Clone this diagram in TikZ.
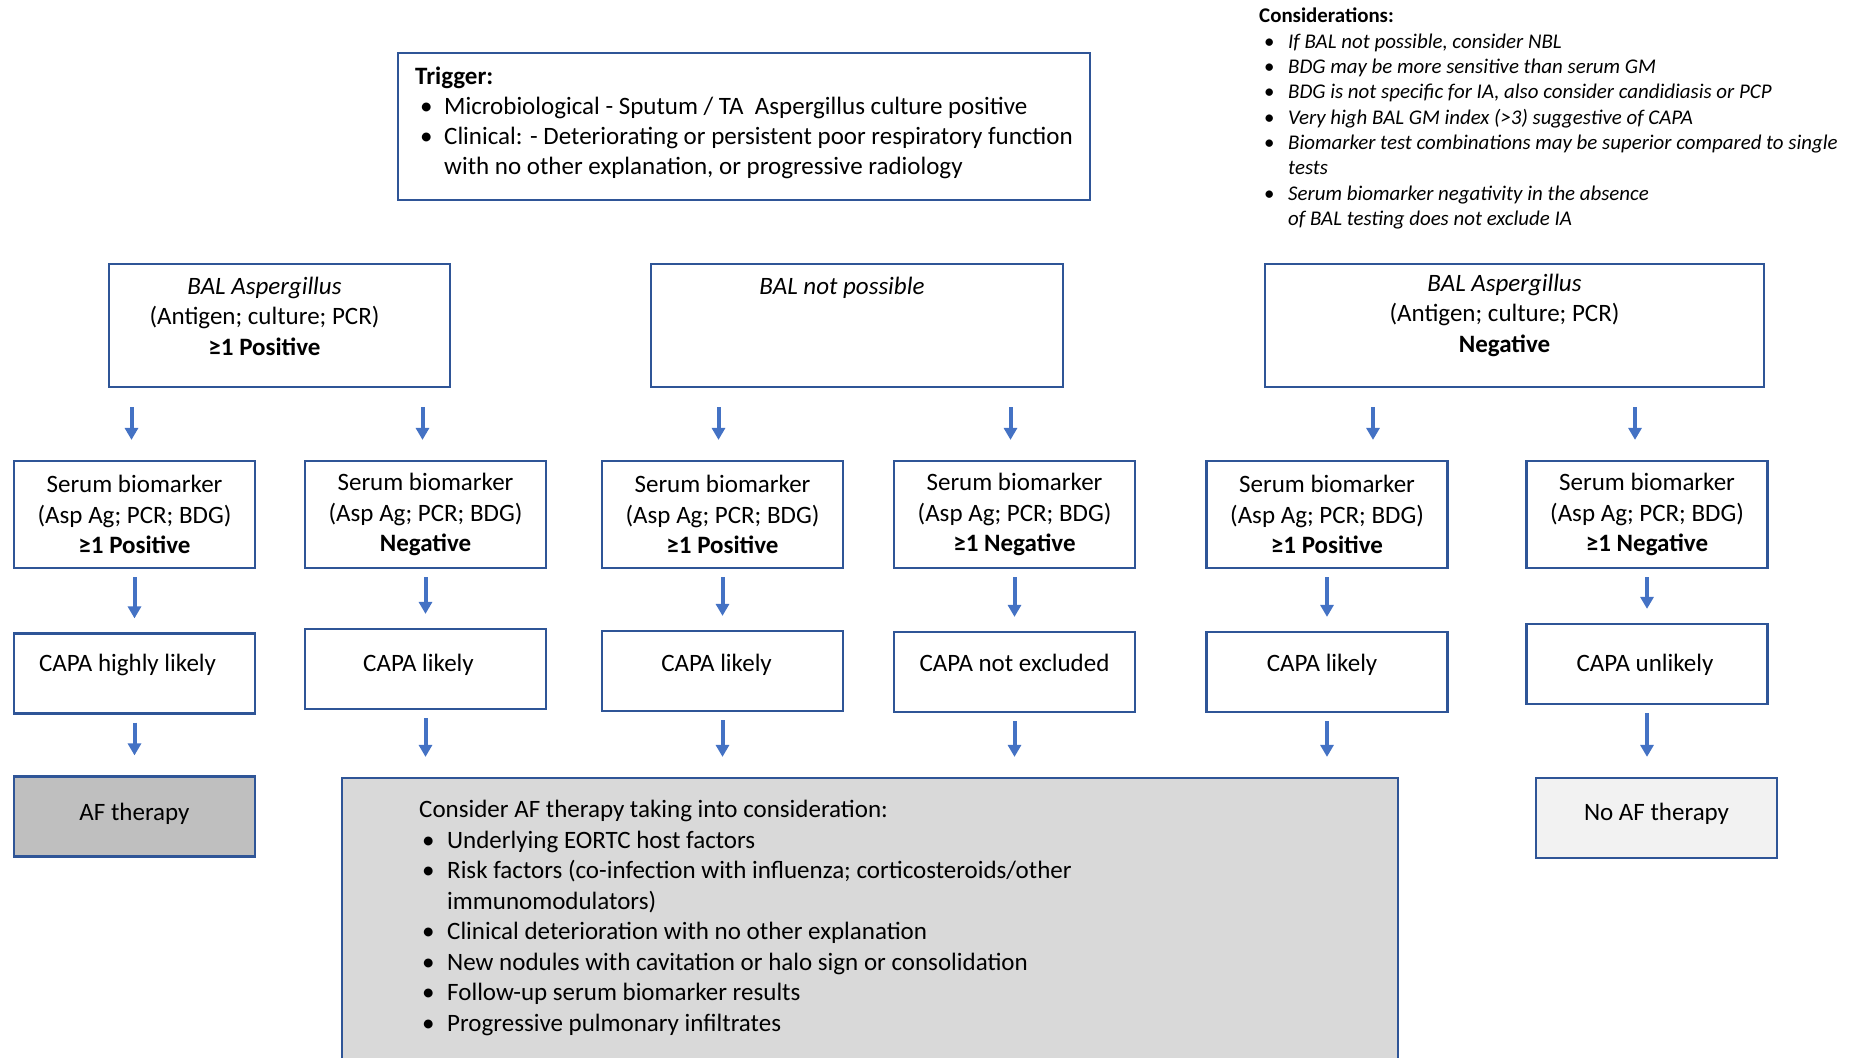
\documentclass[tikz,border=0pt]{standalone}
\usepackage{fontspec}
\setmainfont{Carlito}
\usetikzlibrary{arrows.meta}
\definecolor{boxblue}{HTML}{2F5597}
\definecolor{arrowblue}{HTML}{4472C4}
\definecolor{afgrey}{HTML}{BFBFBF}
\definecolor{considergrey}{HTML}{D9D9D9}
\definecolor{noafgrey}{HTML}{F2F2F2}

\begin{document}
\begin{tikzpicture}[x=1pt, y=-1pt, font=\fontsize{25}{30.5}\selectfont]
\tikzstyle{boxr}=[rectangle, draw=boxblue, line width=2.2pt, inner sep=4pt, align=center]
\tikzstyle{balbox}=[boxr, minimum height=123pt]
\tikzstyle{serumbox}=[boxr, minimum width=241pt, minimum height=107pt]
\tikzstyle{capabox}=[boxr, minimum width=241pt, minimum height=80pt, text height=18pt, text depth=22pt]
\tikzstyle{therapybox}=[boxr, minimum width=241pt, minimum height=80pt, text height=18pt, text depth=11pt]
\tikzstyle{drawstyle}=[draw=arrowblue, line width=4pt, -{Triangle[width=13pt,length=12pt]}]

\useasboundingbox (0,0) rectangle (1854,1057);

% trigger and notes
\node[boxr, minimum width=692pt, minimum height=147pt, align=left, font=\fontsize{25}{30}\selectfont] (trigger) at (744,126.5) {%
\raisebox{3pt}[\height][\depth]{\begin{tabular}{@{\hspace{5pt}}p{24pt}@{}l@{}}
\multicolumn{2}{@{}l@{}}{\textbf{Trigger:}}\\
• & Microbiological - Sputum / TA\ \ Aspergillus culture positive\\
• & Clinical: - Deteriorating or persistent poor respiratory function\\
 & with no other explanation, or progressive radiology
\end{tabular}}};
\node[anchor=north west, inner sep=0pt, align=left, font=\fontsize{20.9}{25.3}\selectfont] (notes) at (1259,5) {%
\begin{tabular}{@{\hspace{5pt}}p{24pt}@{}l@{}}
\multicolumn{2}{@{}l@{}}{\textbf{Considerations:}}\\
• & \textit{If BAL not possible, consider NBL}\\
• & \textit{BDG may be more sensitive than serum GM}\\
• & \textit{BDG is not specific for IA, also consider candidiasis or PCP}\\
• & \textit{Very high BAL GM index (>3) suggestive of CAPA}\\
• & \textit{Biomarker test combinations may be superior compared to single}\\
 & \textit{tests}\\
• & \textit{Serum biomarker negativity in the absence}\\
 & \textit{of BAL testing does not exclude IA}
\end{tabular}};

% BAL row
\node[balbox, minimum width=341pt] (balpos) at (279.5,325.5) {\raisebox{7pt}[\height][\depth]{\begin{tabular}{@{}c@{}}\textit{BAL Aspergillus}\\(Antigen; culture; PCR)\\\textbf{≥1 Positive}\end{tabular}}\kern30pt};
\node[balbox, minimum width=412pt] (balnp) at (857,325.5) {\raisebox{7pt}[\height][\depth]{\begin{tabular}{@{}c@{}}\textit{BAL not possible}\\\strut\\\strut\end{tabular}}\kern30pt};
\node[balbox, minimum width=499pt] (balneg) at (1514.5,325.5) {\raisebox{10pt}[\height][\depth]{\begin{tabular}{@{}c@{}}\textit{BAL Aspergillus}\\(Antigen; culture; PCR)\\\textbf{Negative}\end{tabular}}\kern20pt};

% serum row
\node[serumbox] (sb1) at (134.5,514.5) {Serum biomarker\\(Asp Ag; PCR; BDG)\\\textbf{≥1 Positive}};
\node[serumbox] (sb2) at (425.5,514.5) {Serum biomarker\\(Asp Ag; PCR; BDG)\\\textbf{Negative}};
\node[serumbox] (sb3) at (722.5,514.5) {Serum biomarker\\(Asp Ag; PCR; BDG)\\\textbf{≥1 Positive}};
\node[serumbox] (sb4) at (1014.5,514.5) {Serum biomarker\\(Asp Ag; PCR; BDG)\\\textbf{≥1 Negative}};
\node[serumbox] (sb5) at (1327,514.5) {Serum biomarker\\(Asp Ag; PCR; BDG)\\\textbf{≥1 Positive}};
\node[serumbox] (sb6) at (1647,514.5) {Serum biomarker\\(Asp Ag; PCR; BDG)\\\textbf{≥1 Negative}};

% CAPA row
\node[capabox, text depth=23pt] (cp1) at (134.5,673.5) {CAPA highly likely\kern14pt};
\node[capabox, text depth=14pt] (cp2) at (425.5,669) {CAPA likely\kern14pt};
\node[capabox, text depth=18pt] (cp3) at (722.5,671) {CAPA likely\kern12pt};
\node[capabox, text depth=20pt] (cp4) at (1014.5,672) {CAPA not excluded};
\node[capabox, text depth=20pt] (cp5) at (1327,672) {CAPA likely\kern10pt};
\node[capabox, text depth=4pt] (cp6) at (1647,664) {CAPA unlikely\kern4pt};

% therapy row
\node[therapybox, fill=afgrey] (af) at (134.5,816.5) {AF therapy};
\node[boxr, fill=considergrey, minimum width=1056pt, minimum height=302pt] (consider) at (870,929) {};
\node[anchor=north west, inner sep=0pt, align=left] (considertxt) at (419,796) {%
\begin{tabular}{@{\hspace{3pt}}p{25pt}@{}l@{}}
\multicolumn{2}{@{}l@{}}{Consider AF therapy taking into consideration:}\\
• & Underlying EORTC host factors\\
• & Risk factors (co-infection with influenza; corticosteroids/other\\
 & immunomodulators)\\
• & Clinical deterioration with no other explanation\\
• & New nodules with cavitation or halo sign or consolidation\\
• & Follow-up serum biomarker results\\
• & Progressive pulmonary infiltrates
\end{tabular}};
\node[therapybox, fill=noafgrey, text depth=13pt] (noaf) at (1656.5,818) {No AF therapy};

% arrows
\draw[drawstyle, shorten <=19pt, shorten >=20pt] ([xshift=-3pt]sb1.north |- balpos.south) -- ([xshift=-3pt]sb1.north);
\draw[drawstyle, shorten <=19pt, shorten >=20pt] ([xshift=-3pt]sb2.north |- balpos.south) -- ([xshift=-3pt]sb2.north);
\draw[drawstyle, shorten <=19pt, shorten >=20pt] ([xshift=-4pt]sb3.north |- balnp.south) -- ([xshift=-4pt]sb3.north);
\draw[drawstyle, shorten <=19pt, shorten >=20pt] ([xshift=-4pt]sb4.north |- balnp.south) -- ([xshift=-4pt]sb4.north);
\draw[drawstyle, shorten <=19pt, shorten >=20pt] ([xshift=46pt]sb5.north |- balneg.south) -- ([xshift=46pt]sb5.north);
\draw[drawstyle, shorten <=19pt, shorten >=20pt] ([xshift=-12pt]sb6.north |- balneg.south) -- ([xshift=-12pt]sb6.north);
\draw[drawstyle, shorten <=8pt, shorten >=14pt] (sb1) -- (cp1);
\draw[drawstyle, shorten <=8pt, shorten >=14pt] (sb2) -- (cp2);
\draw[drawstyle, shorten <=8pt, shorten >=14pt] (sb3) -- (cp3);
\draw[drawstyle, shorten <=8pt, shorten >=14pt] (sb4) -- (cp4);
\draw[drawstyle, shorten <=8pt, shorten >=14pt] (sb5) -- (cp5);
\draw[drawstyle, shorten <=8pt, shorten >=14pt] (sb6) -- (cp6);
\draw[drawstyle, shorten <=8pt, shorten >=20pt] (cp1) -- (af);
\draw[drawstyle, shorten <=8pt, shorten >=20pt] (cp2) -- (cp2 |- consider.north);
\draw[drawstyle, shorten <=8pt, shorten >=20pt] (cp3) -- (cp3 |- consider.north);
\draw[drawstyle, shorten <=8pt, shorten >=20pt] (cp4) -- (cp4 |- consider.north);
\draw[drawstyle, shorten <=8pt, shorten >=20pt] (cp5) -- (cp5 |- consider.north);
\draw[drawstyle, shorten <=8pt, shorten >=20pt] (cp6) -- (cp6 |- noaf.north);
\end{tikzpicture}
\end{document}
